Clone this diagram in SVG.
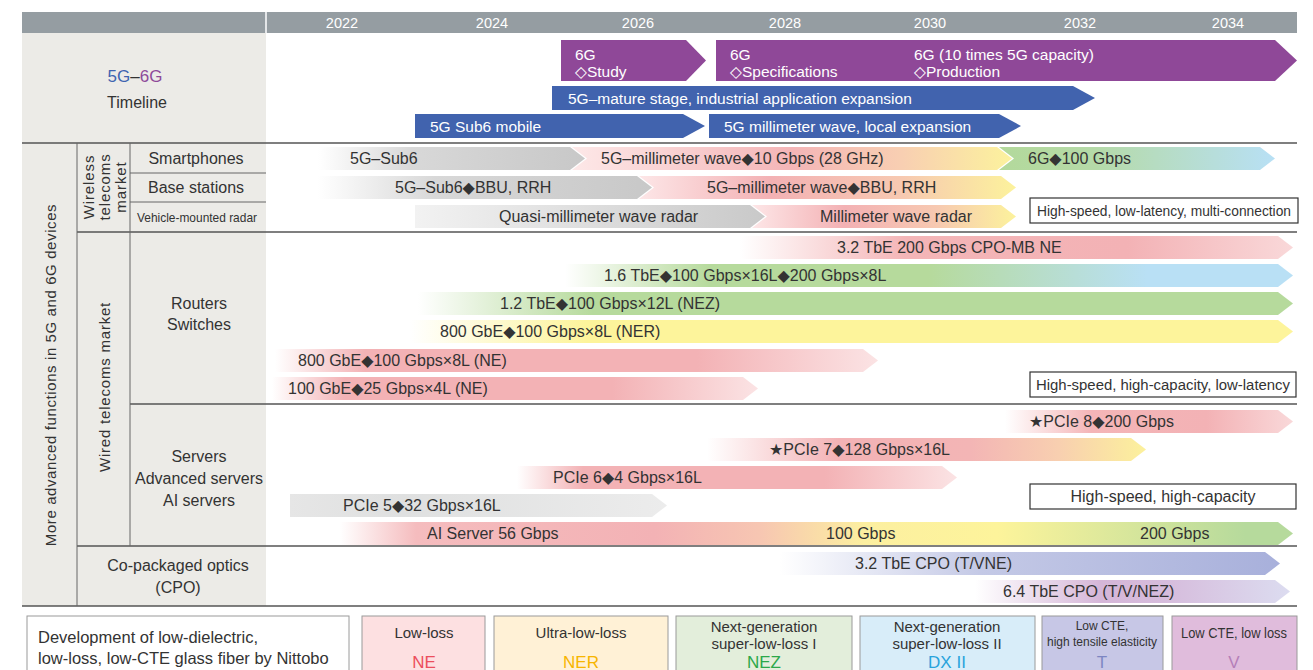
<svg xmlns="http://www.w3.org/2000/svg" width="1313" height="670" viewBox="0 0 1313 670">
  <style>
    text { font-family: "Liberation Sans", Arial, "DejaVu Sans", sans-serif; fill: #333; }
    .yr { font-size: 14.5px; fill: #fff; text-anchor: middle; }
    .lbl { font-size: 15px; }
    .row { font-size: 16px; text-anchor: middle; }
    .bar { font-size: 16px; }
    .mid { text-anchor: middle; }
    .wt { fill: #fff; font-size: 15.5px; }
    .rule { stroke: #555; stroke-width: 1.5; fill: none; }
    .rule-thin { stroke: #666; stroke-width: 1; fill: none; }
    .panel { fill: #ecebe7; }
    .note { fill: #fff; stroke: #333; stroke-width: 1.2; }
    .legend { stroke: #9a9a9a; stroke-width: 1; }
    .lg { font-size: 15px; text-anchor: middle; }
    .code { font-size: 17px; text-anchor: middle; }
    .c-ne { fill: #ec4e5c; }
    .c-ner { fill: #f7b500; }
    .c-nez { fill: #2ca84a; }
    .c-dx { fill: #27a3dc; }
    .c-t { fill: #7d86c2; }
    .c-v { fill: #b57fb8; }
  </style>
  <defs>
    <linearGradient id="gGrayFade" x1="0" y1="0" x2="1" y2="0">
      <stop offset="0" stop-color="#ffffff"/>
      <stop offset="0.35" stop-color="#d8d8d8"/>
      <stop offset="1" stop-color="#c8c8c8"/>
    </linearGradient>
    <linearGradient id="gGrayLight" x1="0" y1="0" x2="1" y2="0">
      <stop offset="0" stop-color="#f2f2f2"/>
      <stop offset="1" stop-color="#c9c9c9"/>
    </linearGradient>
    <linearGradient id="gPinkYellow" x1="0" y1="0" x2="1" y2="0">
      <stop offset="0" stop-color="#fde8e8"/>
      <stop offset="0.5" stop-color="#f4b5b7"/>
      <stop offset="0.75" stop-color="#f8cfb2"/>
      <stop offset="1" stop-color="#fcf29d"/>
    </linearGradient>
    <linearGradient id="gPinkYellow2" x1="0" y1="0" x2="1" y2="0">
      <stop offset="0" stop-color="#fde6e7"/>
      <stop offset="0.35" stop-color="#f3b1b4"/>
      <stop offset="0.7" stop-color="#f7c9b1"/>
      <stop offset="1" stop-color="#fcf29c"/>
    </linearGradient>
    <linearGradient id="gGreenBlue" x1="0" y1="0" x2="1" y2="0">
      <stop offset="0" stop-color="#b3d99b"/>
      <stop offset="0.35" stop-color="#b5daa8"/>
      <stop offset="1" stop-color="#b8e0f5"/>
    </linearGradient>
    <linearGradient id="gPinkFade" x1="0" y1="0" x2="1" y2="0">
      <stop offset="0" stop-color="#ffffff"/>
      <stop offset="0.3" stop-color="#f4b5b7"/>
      <stop offset="0.7" stop-color="#f3b2b5"/>
      <stop offset="1" stop-color="#f9d8d9"/>
    </linearGradient>
    <linearGradient id="gPinkShort" x1="0" y1="0" x2="1" y2="0">
      <stop offset="0" stop-color="#ffffff"/>
      <stop offset="0.15" stop-color="#f3b2b5"/>
      <stop offset="0.7" stop-color="#f3b2b5"/>
      <stop offset="1" stop-color="#fbe3e4"/>
    </linearGradient>
    <linearGradient id="gGreenToBlue" x1="0" y1="0" x2="1" y2="0">
      <stop offset="0" stop-color="#ffffff"/>
      <stop offset="0.2" stop-color="#b6da9c"/>
      <stop offset="0.5" stop-color="#b6da9c"/>
      <stop offset="0.8" stop-color="#b9e0f5"/>
      <stop offset="1" stop-color="#b9e0f5"/>
    </linearGradient>
    <linearGradient id="gGreen" x1="0" y1="0" x2="1" y2="0">
      <stop offset="0" stop-color="#ffffff"/>
      <stop offset="0.2" stop-color="#b6da9c"/>
      <stop offset="1" stop-color="#b6da9c"/>
    </linearGradient>
    <linearGradient id="gYellow" x1="0" y1="0" x2="1" y2="0">
      <stop offset="0" stop-color="#ffffff"/>
      <stop offset="0.2" stop-color="#fdf49b"/>
      <stop offset="1" stop-color="#fdf49b"/>
    </linearGradient>
    <linearGradient id="gPcie7" x1="0" y1="0" x2="1" y2="0">
      <stop offset="0" stop-color="#ffffff"/>
      <stop offset="0.3" stop-color="#f3b2b5"/>
      <stop offset="0.6" stop-color="#f3b5b5"/>
      <stop offset="0.8" stop-color="#f8cfb0"/>
      <stop offset="1" stop-color="#fcf19c"/>
    </linearGradient>
    <linearGradient id="gPcie5" x1="0" y1="0" x2="1" y2="0">
      <stop offset="0" stop-color="#e6e6e6"/>
      <stop offset="0.3" stop-color="#dfe0e0"/>
      <stop offset="1" stop-color="#ececec"/>
    </linearGradient>
    <linearGradient id="gAi" x1="0" y1="0" x2="1" y2="0">
      <stop offset="0" stop-color="#ffffff"/>
      <stop offset="0.08" stop-color="#f5bcbe"/>
      <stop offset="0.33" stop-color="#f3b2b5"/>
      <stop offset="0.44" stop-color="#f7c6b2"/>
      <stop offset="0.55" stop-color="#fcefa0"/>
      <stop offset="0.69" stop-color="#fdf49b"/>
      <stop offset="0.95" stop-color="#b6da9c"/>
      <stop offset="1" stop-color="#b6da9c"/>
    </linearGradient>
    <linearGradient id="gLavender" x1="0" y1="0" x2="1" y2="0">
      <stop offset="0" stop-color="#ffffff"/>
      <stop offset="0.4" stop-color="#c4c9e6"/>
      <stop offset="1" stop-color="#a8b0db"/>
    </linearGradient>
    <linearGradient id="gMauve" x1="0" y1="0" x2="1" y2="0">
      <stop offset="0" stop-color="#ffffff"/>
      <stop offset="0.4" stop-color="#d5b6d8"/>
      <stop offset="0.6" stop-color="#d6bcdc"/>
      <stop offset="1" stop-color="#dcdcf0"/>
    </linearGradient>
  </defs>

  <!-- left label panels and year header -->
  <g id="frame">
    <rect class="panel" x="22" y="33" width="244" height="573"/>
    <rect x="22" y="12" width="1275" height="21" fill="#959da2"/>
    <line x1="266" y1="12" x2="266" y2="33" stroke="#fff" stroke-width="1.5"/>
    <text class="yr" x="342" y="28">2022</text>
    <text class="yr" x="492" y="28">2024</text>
    <text class="yr" x="638" y="28">2026</text>
    <text class="yr" x="785" y="28">2028</text>
    <text class="yr" x="930" y="28">2030</text>
    <text class="yr" x="1080" y="28">2032</text>
    <text class="yr" x="1228" y="28">2034</text>
  </g>

  <!-- section rules -->
  <g id="connectors">
    <line class="rule" x1="22" y1="143" x2="1297" y2="143"/>
    <line class="rule-thin" x1="130" y1="173" x2="266" y2="173"/>
    <line class="rule-thin" x1="130" y1="202" x2="266" y2="202"/>
    <line class="rule" x1="77" y1="232" x2="1297" y2="232"/>
    <line class="rule" x1="130" y1="404" x2="1297" y2="404"/>
    <line class="rule" x1="77" y1="546" x2="1297" y2="546"/>
    <line class="rule" x1="22" y1="606" x2="1297" y2="606"/>
    <line class="rule-thin" x1="77" y1="143" x2="77" y2="606"/>
    <line class="rule-thin" x1="130" y1="143" x2="130" y2="546"/>
  </g>

  <!-- row labels -->
  <g id="labels">
    <text x="135" y="82" class="mid" font-size="17px"><tspan fill="#3f64b0">5G</tspan><tspan fill="#333">–</tspan><tspan fill="#8e4a99">6G</tspan></text>
    <text x="137" y="108" class="row">Timeline</text>
    <text class="lbl mid" transform="translate(56,375) rotate(-90)" letter-spacing="0.6">More advanced functions in 5G and 6G devices</text>
    <text class="lbl mid" transform="translate(94,187) rotate(-90)" letter-spacing="0.9">Wireless</text>
    <text class="lbl mid" transform="translate(110,187) rotate(-90)" letter-spacing="0.9">telecoms</text>
    <text class="lbl mid" transform="translate(126,187) rotate(-90)" letter-spacing="0.9">market</text>
    <text class="lbl mid" transform="translate(110,387) rotate(-90)" letter-spacing="0.8">Wired telecoms market</text>
    <text class="row" x="196" y="164">Smartphones</text>
    <text class="row" x="196" y="193">Base stations</text>
    <text class="mid" x="197" y="222" font-size="13px" textLength="120" lengthAdjust="spacingAndGlyphs">Vehicle-mounted radar</text>
    <text class="row" x="199" y="309">Routers</text>
    <text class="row" x="199" y="330">Switches</text>
    <text class="row" x="199" y="462">Servers</text>
    <text class="row" x="199" y="484">Advanced servers</text>
    <text class="row" x="199" y="506">AI servers</text>
    <text class="row" x="178" y="571">Co-packaged optics</text>
    <text class="row" x="178" y="593">(CPO)</text>
  </g>

  <!-- 5G / 6G timeline -->
  <g id="timeline">
    <polygon points="561,40 686,40 706,60.5 686,81 561,81" fill="#8f4898"/>
    <text class="wt" x="575" y="60">6G</text>
    <text class="wt" x="575" y="77">◇Study</text>
    <polygon points="716,40 1275,40 1297,60.5 1275,81 716,81" fill="#8f4898"/>
    <text class="wt" x="730" y="60">6G</text>
    <text class="wt" x="730" y="77">◇Specifications</text>
    <text class="wt" x="914" y="60">6G (10 times 5G capacity)</text>
    <text class="wt" x="914" y="77">◇Production</text>
    <polygon points="552,86 1073,86 1095,98 1073,110 552,110" fill="#4163ae"/>
    <text class="wt" x="568" y="104">5G–mature stage, industrial application expansion</text>
    <polygon points="415,114 683,114 705,126 683,138 415,138" fill="#4163ae"/>
    <text class="wt" x="430" y="132">5G Sub6 mobile</text>
    <polygon points="709,114 999,114 1021,126 999,138 709,138" fill="#4163ae"/>
    <text class="wt" x="724" y="132">5G millimeter wave, local expansion</text>
  </g>

  <!-- wireless telecoms market -->
  <g id="wireless">
    <polygon points="318,147 570,147 585,158.5 570,170 318,170" fill="url(#gGrayFade)"/>
    <text class="bar" x="350" y="164">5G–Sub6</text>
    <polygon points="572,147 997,147 1012,158.5 997,170 572,170 587,158.5" fill="url(#gPinkYellow)"/>
    <text class="bar" x="601" y="164">5G–millimeter wave◆10 Gbps (28 GHz)</text>
    <polygon points="999,147 1260,147 1275,158.5 1260,170 999,170 1014,158.5" fill="url(#gGreenBlue)"/>
    <text class="bar" x="1028" y="164">6G◆100 Gbps</text>

    <polygon points="318,176 637,176 652,187.5 637,199 318,199" fill="url(#gGrayFade)"/>
    <text class="bar" x="395" y="193">5G–Sub6◆BBU, RRH</text>
    <polygon points="639,176 1001,176 1016,187.5 1001,199 639,199 654,187.5" fill="url(#gPinkYellow2)"/>
    <text class="bar" x="707" y="193">5G–millimeter wave◆BBU, RRH</text>

    <polygon points="415,205 750,205 765,216.5 750,228 415,228" fill="url(#gGrayLight)"/>
    <text class="bar" x="499" y="222">Quasi-millimeter wave radar</text>
    <polygon points="752,205 1001,205 1016,216.5 1001,228 752,228 767,216.5" fill="url(#gPinkYellow2)"/>
    <text class="bar" x="820" y="222">Millimeter wave radar</text>

    <rect class="note" x="1030" y="198" width="268" height="25"/>
    <text x="1164" y="216" class="mid" font-size="14px" textLength="254" lengthAdjust="spacingAndGlyphs">High-speed, low-latency, multi-connection</text>
  </g>

  <!-- routers / switches -->
  <g id="routers">
    <polygon points="740,236 1278,236 1293,247.5 1278,259 740,259" fill="url(#gPinkFade)"/>
    <text class="bar" x="837" y="253">3.2 TbE 200 Gbps CPO-MB NE</text>
    <polygon points="565,264 1278,264 1293,275.5 1278,287 565,287" fill="url(#gGreenToBlue)"/>
    <text class="bar" x="604" y="281">1.6 TbE◆100 Gbps×16L◆200 Gbps×8L</text>
    <polygon points="418,292 1278,292 1293,303.5 1278,315 418,315" fill="url(#gGreen)"/>
    <text class="bar" x="500" y="309">1.2 TbE◆100 Gbps×12L (NEZ)</text>
    <polygon points="410,320 1278,320 1293,331.5 1278,343 410,343" fill="url(#gYellow)"/>
    <text class="bar" x="440" y="337">800 GbE◆100 Gbps×8L (NER)</text>
    <polygon points="275,349 863,349 878,360.5 863,372 275,372" fill="url(#gPinkShort)"/>
    <text class="bar" x="298" y="366">800 GbE◆100 Gbps×8L (NE)</text>
    <polygon points="272,377 743,377 758,388.5 743,400 272,400" fill="url(#gPinkShort)"/>
    <text class="bar" x="288" y="394">100 GbE◆25 Gbps×4L (NE)</text>

    <rect class="note" x="1030" y="372" width="266" height="25"/>
    <text x="1163" y="390" class="mid" font-size="14px" textLength="254" lengthAdjust="spacingAndGlyphs">High-speed, high-capacity, low-latency</text>
  </g>

  <!-- servers -->
  <g id="servers">
    <polygon points="1005,410 1278,410 1293,421.5 1278,433 1005,433" fill="url(#gPinkFade)"/>
    <text class="bar" x="1029" y="427">★PCIe 8◆200 Gbps</text>
    <polygon points="707,438 1131,438 1146,449.5 1131,461 707,461" fill="url(#gPcie7)"/>
    <text class="bar" x="769" y="455">★PCIe 7◆128 Gbps×16L</text>
    <polygon points="517,466 942,466 957,477.5 942,489 517,489" fill="url(#gPinkShort)"/>
    <text class="bar" x="553" y="483">PCIe 6◆4 Gbps×16L</text>
    <polygon points="290,494 652,494 667,505.5 652,517 290,517" fill="url(#gPcie5)"/>
    <text class="bar" x="343" y="511">PCIe 5◆32 Gbps×16L</text>

    <rect class="note" x="1030" y="484" width="266" height="25"/>
    <text x="1163" y="502" class="bar mid">High-speed, high-capacity</text>

    <polygon points="340,522 1278,522 1293,533.5 1278,545 340,545" fill="url(#gAi)"/>
    <text class="bar" x="427" y="539">AI Server 56 Gbps</text>
    <text class="bar" x="826" y="539">100 Gbps</text>
    <text class="bar" x="1140" y="539">200 Gbps</text>
  </g>

  <!-- co-packaged optics -->
  <g id="cpo">
    <polygon points="780,552 1265,552 1280,563.5 1265,575 780,575" fill="url(#gLavender)"/>
    <text class="bar" x="855" y="569">3.2 TbE CPO (T/VNE)</text>
    <polygon points="975,580 1275,580 1290,591.5 1275,603 975,603" fill="url(#gMauve)"/>
    <text class="bar" x="1003" y="597">6.4 TbE CPO (T/V/NEZ)</text>
  </g>

  <!-- glass fiber legend -->
  <g id="legend-intro">
    <rect class="legend" x="27" y="616" width="322" height="70" fill="#fff"/>
    <text x="38" y="643" font-size="16.5px">Development of low-dielectric,</text>
    <text x="38" y="664" font-size="16.5px">low-loss, low-CTE glass fiber by Nittobo</text>
  </g>
  <g id="legend-ne">
    <rect class="legend" x="362" y="616" width="123" height="70" fill="#fde0e1"/>
    <text class="lg" x="424" y="638">Low-loss</text>
    <text class="code c-ne" x="424" y="668">NE</text>
  </g>
  <g id="legend-ner">
    <rect class="legend" x="494" y="616" width="174" height="70" fill="#fff1d6"/>
    <text class="lg" x="581" y="638">Ultra-low-loss</text>
    <text class="code c-ner" x="581" y="668">NER</text>
  </g>
  <g id="legend-nez">
    <rect class="legend" x="676" y="616" width="176" height="70" fill="#e3eedb"/>
    <text class="lg" x="764" y="632">Next-generation</text>
    <text class="lg" x="764" y="649">super-low-loss I</text>
    <text class="code c-nez" x="764" y="668">NEZ</text>
  </g>
  <g id="legend-dx2">
    <rect class="legend" x="860" y="616" width="175" height="70" fill="#d8edf9"/>
    <text class="lg" x="947" y="632">Next-generation</text>
    <text class="lg" x="947" y="649">super-low-loss II</text>
    <text class="code c-dx" x="947" y="668">DX II</text>
  </g>
  <g id="legend-t">
    <rect class="legend" x="1042" y="616" width="121" height="70" fill="#c7c7e6"/>
    <text class="mid" x="1102" y="630" font-size="12px">Low CTE,</text>
    <text class="mid" x="1102" y="646" font-size="12px" textLength="110" lengthAdjust="spacingAndGlyphs">high tensile elasticity</text>
    <text class="code c-t" x="1102" y="668">T</text>
  </g>
  <g id="legend-v">
    <rect class="legend" x="1172" y="616" width="125" height="70" fill="#e0bcdc"/>
    <text class="mid" x="1234" y="638" font-size="14px" textLength="106" lengthAdjust="spacingAndGlyphs">Low CTE, low loss</text>
    <text class="code c-v" x="1234" y="668">V</text>
  </g>
</svg>
